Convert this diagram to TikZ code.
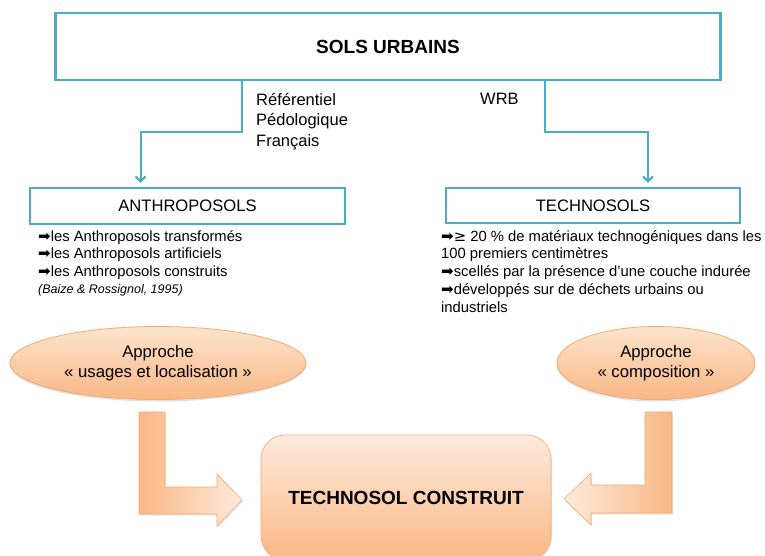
\documentclass[tikz,border=0pt]{standalone}
\usepackage{fontspec}
\setmainfont{Liberation Sans}
\newfontfamily\symfont{DejaVu Sans}
\usetikzlibrary{arrows.meta,shapes.geometric,shadows,positioning}
\definecolor{bleuoffice}{RGB}{75,172,198}
\definecolor{orangebord}{RGB}{245,170,110}
\definecolor{orangeclair}{RGB}{253,228,206}
\definecolor{orangefonce}{RGB}{249,183,132}
\definecolor{orangepale}{RGB}{253,235,220}
\newcommand{\puce}{{\symfont\fontsize{15}{15}\selectfont ➡}}
\newcommand{\supeg}{{\symfont ≥}}

\begin{document}
\begin{tikzpicture}[x=1pt, y=-1pt]
\tikzstyle{cadre}=[draw=bleuoffice, line width=2.4pt, rectangle, inner sep=0pt];
\tikzstyle{lien}=[bleuoffice, line width=2pt, -{Straight Barb[length=5pt, width=10pt]}, shorten >=4pt];
\tikzstyle{liste}=[anchor=north west, align=left, inner sep=0pt, font=\fontsize{14.8}{17.8}\selectfont];
\tikzstyle{approche}=[ellipse, draw=orangebord, line width=0.8pt, top color=orangeclair, bottom color=orangefonce, drop shadow={opacity=0.25, shadow xshift=0pt, shadow yshift=-2pt}, align=center, font=\fontsize{16.7}{20}\selectfont];
\tikzstyle{bloc}=[draw=orangebord, line width=0.6pt, drop shadow={opacity=0.2, shadow xshift=1pt, shadow yshift=-1.5pt}];

\useasboundingbox (0,0) rectangle (765,555);
\clip (0,0) rectangle (765,555);

\node[cadre, minimum width=665, minimum height=67, font=\bfseries\fontsize{19}{19}\selectfont] (sols) at (388, 46.5) {SOLS URBAINS};
\node[cadre, minimum width=315, minimum height=36, font=\fontsize{16.6}{16.6}\selectfont] (anthro) at (187.5, 206) {ANTHROPOSOLS};
\node[cadre, minimum width=294, minimum height=35, font=\fontsize{16.6}{16.6}\selectfont] (techno) at (593, 205.5) {TECHNOSOLS};

\node[liste, font=\fontsize{16.5}{20.5}\selectfont] (rpf) at (256, 93) {Référentiel\\Pédologique\\Français};
\node[liste, font=\fontsize{16.5}{20.5}\selectfont] (wrb) at (480, 93) {WRB};

\draw[lien] ([xshift=-146.5pt]sols.south) -- ++(0, 51) -| ([xshift=-47pt]anthro.north);
\draw[lien] ([xshift=157pt]sols.south) -- ++(0, 51) -| ([xshift=55pt]techno.north);

\node[liste] (lanthro) at (38, 230) {\puce les Anthroposols transformés\\\puce les Anthroposols artificiels\\\puce les Anthroposols construits};
\node[liste, font=\itshape\fontsize{12.5}{14}\selectfont, below=4pt of lanthro.south west, anchor=north west] (baize) {(Baize \& Rossignol, 1995)};
\node[liste] (ltechno) at (441, 230) {\puce\supeg{} 20 \% de matériaux technogéniques dans les\\100 premiers centimètres\\\puce scellés par la présence d’une couche indurée\\\puce développés sur de déchets urbains ou\\industriels};

\node[approche, minimum width=296, minimum height=73] (usages) at (158, 363) {Approche\\« usages et localisation »};
\node[approche, minimum width=198, minimum height=73] (compo) at (656, 363) {Approche\\« composition »};

\node[bloc, rounded corners=24pt, minimum width=290, minimum height=125, top color=orangepale, bottom color=orangefonce, font=\bfseries\fontsize{19}{19}\selectfont] (construit) at (406, 497.5) {TECHNOSOL CONSTRUIT};

\draw[bloc, left color=orangefonce, right color=orangepale] (139,412) -- (165,412) -- (165,487) -- (217,487) -- (217,474) -- (242,500) -- (217,526) -- (217,514) -- (139,514) -- cycle;
\draw[bloc, right color=orangefonce, left color=orangepale] (672,412) -- (645,412) -- (645,485) -- (591,485) -- (591,473) -- (564,499) -- (591,525) -- (591,513) -- (672,513) -- cycle;
\end{tikzpicture}
\end{document}
